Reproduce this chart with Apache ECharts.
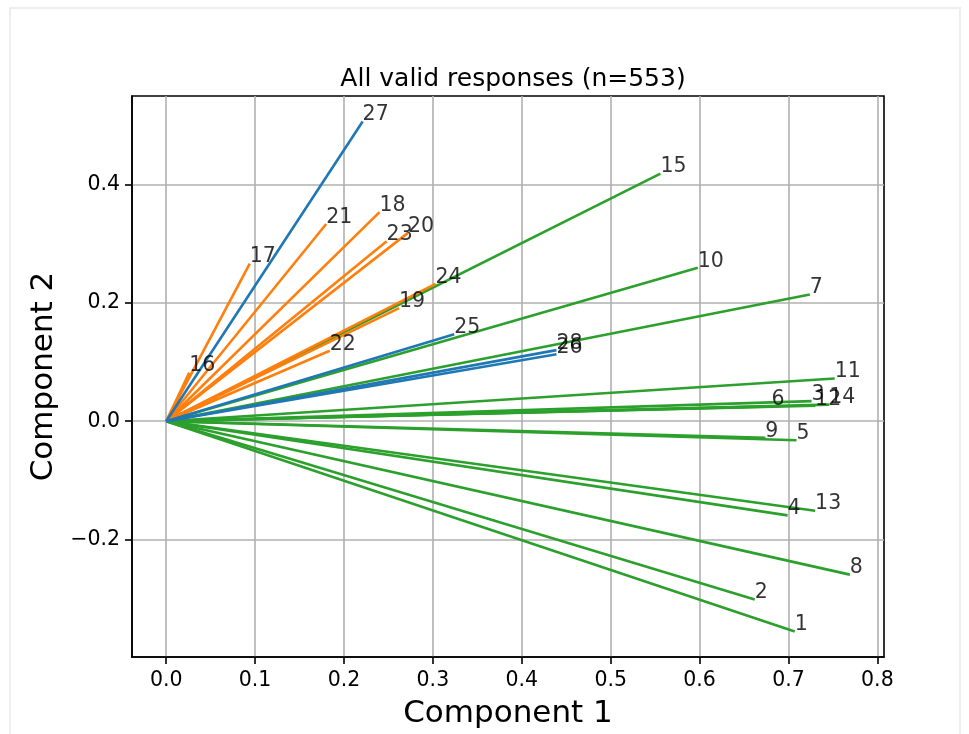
<!DOCTYPE html>
<html>
<head>
<meta charset="utf-8">
<script src="https://cdn.jsdelivr.net/npm/echarts@6/dist/echarts.min.js"></script>
<style>
  html, body { margin: 0; padding: 0; background: #fff; }
  #frame { position: absolute; left: 9px; top: 7px; width: 952px; height: 740px; border: 2px solid #eeeeee; box-sizing: border-box; }
  #chart { position: absolute; left: 0; top: 0; width: 969px; height: 734px; }
</style>
</head>
<body>
<div id="frame"></div>
<div id="chart"></div>
<script>
// ---- data ----
const itemLabels = ['1','2','3','4','5','6','7','8','9','10','11','12','13','14','15','16','17','18','19','20','21','22','23','24','25','26','27','28'];
const component1 = [0.707, 0.662, 0.726, 0.699, 0.709, 0.681, 0.724, 0.769, 0.674, 0.598, 0.752, 0.730, 0.730, 0.746, 0.556,
                    0.026, 0.094, 0.240, 0.262, 0.272, 0.180, 0.184, 0.248, 0.303,
                    0.324, 0.439, 0.221, 0.439];
const component2 = [-0.355, -0.301, 0.034, -0.159, -0.032, 0.025, 0.214, -0.259, -0.028, 0.259, 0.072, 0.026, -0.151, 0.028, 0.418,
                    0.082, 0.266, 0.353, 0.191, 0.318, 0.333, 0.119, 0.304, 0.232,
                    0.147, 0.113, 0.506, 0.120];
const itemGroup = ['C','C','C','C','C','C','C','C','C','C','C','C','C','C','C',
                   'B','B','B','B','B','B','B','B','B',
                   'A','A','A','A'];
const xTicks = [0.0, 0.1, 0.2, 0.3, 0.4, 0.5, 0.6, 0.7, 0.8];
const yTicks = [-0.2, 0.0, 0.2, 0.4];
const titleText = 'All valid responses (n=553)';
const xName = 'Component 1';
const yName = 'Component 2';

// ---- styling ----
const groupColor = { A: '#1f77b4', B: '#ff7f0e', C: '#2ca02c' };
const FONT = 'DejaVu Sans';

function limits(vals) {
  const lo = Math.min(0, ...vals), hi = Math.max(0, ...vals);
  const m = (hi - lo) * 0.05;
  return [lo - m, hi + m];
}
const [xMin, xMax] = limits(component1);
const [yMin, yMax] = limits(component2);

const fmt = v => { const s = Math.abs(v) < 1e-9 ? '0.0' : v.toFixed(1); return s.replace('-', '\u2212'); };

const series = [];
itemLabels.forEach((lab, i) => {
  series.push({
    type: 'line',
    name: 'v' + lab,
    data: [[0, 0], [component1[i], component2[i]]],
    symbol: 'none',
    silent: true,
    z: 2 + i * 0.01,
    lineStyle: { color: groupColor[itemGroup[i]], width: 2.6 }
  });
});
series.push({
  type: 'scatter',
  name: 'labels',
  silent: true,
  z: 10,
  symbol: 'circle',
  symbolSize: 0.1,
  itemStyle: { color: 'rgba(0,0,0,0)' },
  data: itemLabels.map((lab, i) => ({ name: lab, value: [component1[i], component2[i]] })),
  label: {
    show: true,
    formatter: p => p.name,
    position: [0, 4],
    align: 'left',
    verticalAlign: 'bottom',
    fontFamily: FONT,
    fontSize: 20.5,
    color: '#000'
  }
});

const axisCommon = {
  axisLine: { show: true, onZero: false, lineStyle: { color: '#000', width: 1.6 } },
  splitLine: { show: true, lineStyle: { color: '#b0b0b0', width: 1.6 } },
  nameTextStyle: { fontFamily: FONT, fontSize: 31, color: '#000' }
};

const chart = echarts.init(document.getElementById('chart'), null, { renderer: 'canvas' });
chart.setOption({
  animation: false,
  backgroundColor: 'transparent',
  title: {
    text: titleText,
    left: 508, top: 62, textAlign: 'center',
    textStyle: { fontFamily: FONT, fontSize: 25, fontWeight: 'normal', color: '#000' }
  },
  grid: { left: 132, right: 85, top: 96, bottom: 77, show: true, borderColor: '#000', borderWidth: 1.6, backgroundColor: 'transparent' },
  xAxis: Object.assign({}, axisCommon, {
    type: 'value', min: xMin, max: xMax,
    name: xName, nameLocation: 'middle', nameGap: 41,
    axisTick: { show: true, length: 7, inside: false, customValues: xTicks, lineStyle: { color: '#000', width: 1.6 } },
    axisLabel: { customValues: xTicks, formatter: fmt, fontFamily: FONT, fontSize: 20.5, color: '#000', margin: 13 }
  }),
  yAxis: Object.assign({}, axisCommon, {
    type: 'value', min: yMin, max: yMax,
    name: yName, nameLocation: 'middle', nameGap: 72, nameRotate: 90,
    axisTick: { show: true, length: 7, inside: false, customValues: yTicks, lineStyle: { color: '#000', width: 1.6 } },
    axisLabel: { customValues: yTicks, formatter: fmt, fontFamily: FONT, fontSize: 20.5, color: '#000', margin: 12 }
  }),
  series: series
});
</script>
</body>
</html>
